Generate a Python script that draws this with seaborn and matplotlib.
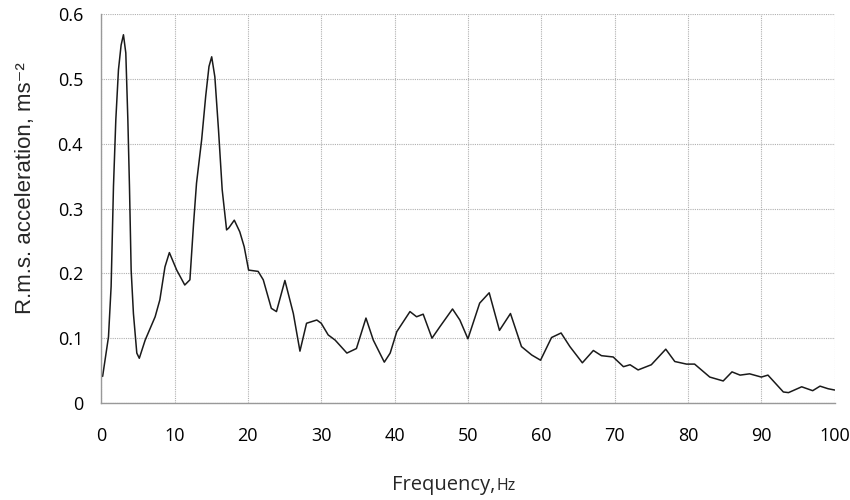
import numpy as np
import pandas as pd
import matplotlib
matplotlib.use("Agg")
import matplotlib.pyplot as plt
import seaborn as sns

freq = [0.2, 1.0, 1.36, 1.68, 2.0, 2.36, 2.72, 3.04, 3.36, 3.64, 3.86, 4.09, 4.4, 4.86, 5.2, 6.0, 7.36,
        8.0, 8.7, 9.3, 10.3, 11.4, 12.1, 12.6, 13.0, 13.7, 14.25, 14.7, 15.07, 15.5, 16.0, 16.5, 17.1,
        17.4, 18.15, 18.9, 19.5, 20.1, 21.4, 22.1, 23.2, 23.9, 25.05,
        26.2, 27.1, 28.0, 29.4, 30.0, 30.95, 31.9, 33.5, 34.8, 36.1, 37.1, 38.6, 39.4, 40.3, 42.1,
        43.0, 43.9, 45.1, 46.2, 47.9, 48.9, 50.0, 51.6, 52.9, 54.3, 55.8, 57.3, 58.7, 59.9, 61.4,
        62.7, 63.9, 65.6, 67.1, 68.2, 69.8, 71.2, 72.1, 73.2, 75.0, 76.97, 78.2, 79.8, 80.9, 82.97,
        84.8, 86.0, 87.1, 88.4, 90.0, 90.9, 93.0, 93.7, 95.5, 97.0, 98.0, 99.1, 100.0]
accel = [0.041, 0.102, 0.18, 0.334, 0.437, 0.514, 0.552, 0.568, 0.54, 0.437, 0.334, 0.205, 0.138, 0.077,
         0.069, 0.097, 0.133, 0.159, 0.21, 0.232, 0.205, 0.182, 0.19, 0.277, 0.339, 0.406, 0.473, 0.519,
         0.534, 0.503, 0.421, 0.329, 0.267, 0.27, 0.282, 0.264, 0.241, 0.205, 0.203,
         0.19, 0.146, 0.141, 0.189, 0.138, 0.080, 0.123, 0.128, 0.123, 0.105, 0.097, 0.077, 0.084, 0.131,
         0.097, 0.063, 0.077, 0.110, 0.141, 0.133, 0.137, 0.100, 0.118, 0.145, 0.128, 0.099, 0.154, 0.170,
         0.112, 0.138, 0.087, 0.074, 0.066, 0.101, 0.108, 0.087, 0.062, 0.081, 0.073, 0.071, 0.056, 0.059,
         0.051, 0.059, 0.083, 0.064, 0.060, 0.060, 0.040, 0.034, 0.048, 0.043, 0.045, 0.040, 0.043, 0.017,
         0.016, 0.025, 0.019, 0.026, 0.022, 0.020]
x_ticks = [0, 10, 20, 30, 40, 50, 60, 70, 80, 90, 100]
y_ticks = [0, 0.1, 0.2, 0.3, 0.4, 0.5, 0.6]
y_tick_labels = ["0", "0.1", "0.2", "0.3", "0.4", "0.5", "0.6"]

df = pd.DataFrame({"freq": freq, "accel": accel})

sns.set_style("white")
fig = plt.figure(figsize=(8.5, 5), dpi=100)
ax = fig.add_axes([0.119, 0.194, 0.863, 0.778])

sns.lineplot(data=df, x="freq", y="accel", ax=ax, color="#1a1a1a", linewidth=1.1)

ax.set_xlim(0, 100)
ax.set_ylim(0, 0.6)
ax.set_xticks(x_ticks)
ax.set_yticks(y_ticks)
ax.set_yticklabels(y_tick_labels)
ax.grid(True, color="#b0b0b0", linestyle=(0, (1, 1)), linewidth=0.8)
for s in ["top", "right"]:
    ax.spines[s].set_visible(False)
for s in ["left", "bottom"]:
    ax.spines[s].set_color("#999999")
    ax.spines[s].set_linewidth(1.0)
ax.tick_params(axis="both", direction="out", length=5, color="#999999", labelsize=13,
               labelcolor="black")
ax.tick_params(axis="x", pad=12)
ax.tick_params(axis="y", pad=8)
for lab in ax.get_xticklabels() + ax.get_yticklabels():
    lab.set_family(["Open Sans", "DejaVu Sans"])

ax.set_xlabel("")
ax.set_ylabel("R.m.s. acceleration, ms⁻²", fontsize=16, family=["Liberation Sans", "DejaVu Sans"])
ax.yaxis.set_label_coords(-0.089, 0.553)
fig.text(392 / 850, 0.02, "Frequency,", fontsize=14.5, family=["Open Sans", "DejaVu Sans"],
         ha="left", va="baseline")
fig.text(496 / 850, 0.02, "Hz", fontsize=11.5, family=["Open Sans", "DejaVu Sans"], ha="left", va="baseline")

fig.savefig("out.png", dpi=100)
